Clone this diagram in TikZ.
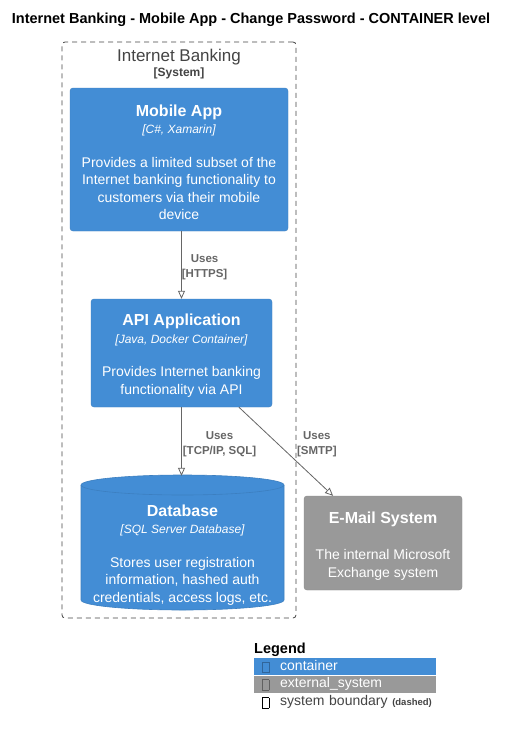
\documentclass[tikz,border=0pt]{standalone}
\usepackage{fontspec}
\setmainfont{Liberation Sans}
\usepackage{tikz}
\usetikzlibrary{arrows.meta}

\definecolor{cblue}{HTML}{438DD5}
\definecolor{cblueline}{HTML}{3C7FC0}
\definecolor{extgray}{HTML}{999999}
\definecolor{extline}{HTML}{8A8A8A}
\definecolor{relgray}{HTML}{666666}
\definecolor{bndgray}{HTML}{444444}

\newcommand{\ctitle}[1]{{\rule{0pt}{17pt}\fontsize{16}{19}\selectfont\bfseries #1}}
\newcommand{\ctech}[1]{{\fontsize{12}{15}\selectfont\itshape [#1]}}
\newcommand{\legicon}{\raisebox{-2pt}{\setlength{\fboxsep}{0pt}\setlength{\fboxrule}{0.5pt}\fbox{\rule{0pt}{10pt}\rule{6pt}{0pt}}}}

\begin{document}
\begin{tikzpicture}[
  x=1pt,y=-1pt,
  >={Triangle[open,length=8pt,width=7pt]},
  container/.style={rectangle,rounded corners=3pt,fill=cblue,draw=cblueline,text=white,align=center,inner sep=0pt,font=\fontsize{14}{17.5}\selectfont},
  extsys/.style={container,fill=extgray,draw=extline},
  rel/.style={draw=relgray,line width=0.8pt,->},
  rellbl/.style={text=relgray,align=center,inner sep=0pt,yshift=-2.5pt,font=\fontsize{11.5}{15}\selectfont\bfseries},
  legrow/.style={rectangle,anchor=north west,minimum height=17.5pt,text width=174pt,inner xsep=4pt,inner ysep=0pt,align=left,font=\fontsize{14}{16}\selectfont}]
      \tikzstyle{boundary}=[rectangle,draw=bndgray,line width=0.8pt,dash pattern=on 5pt off 4pt,rounded corners=3pt]
      \tikzstyle{dbshape}=[fill=cblue,draw=cblueline,line width=0.6pt]

      \fill[white] (0,0) rectangle (508,736);
      \useasboundingbox (0,0) rectangle (508,736);

     \node[font=\fontsize{14.5}{17}\selectfont\bfseries] (title) at (251,20) {Internet Banking - Mobile App - Change Password - CONTAINER level};

     \node[boundary,minimum width=234pt,minimum height=576pt] (ibank) at (179,330) {};
     \node[align=center,text=bndgray,inner sep=0pt,font=\fontsize{17}{17}\selectfont] (ibanklbl) at (179,64.5)
	{Internet Banking\\[-2pt] {\fontsize{12}{14}\selectfont\bfseries [System]}};

     \node[container,minimum width=218pt,minimum height=143pt] (mobile) at (179,159.5)
	{\ctitle{Mobile App}\\ \ctech{C\#, Xamarin}\\[16pt] Provides a limited subset of the\\ Internet banking functionality to\\ customers via their mobile\\ device};

     \node[container,minimum width=181pt,minimum height=108pt] (api) at (181.5,353)
	{\ctitle{API Application}\\ \ctech{Java, Docker Container}\\[16pt] Provides Internet banking\\ functionality via API};

     \path[dbshape] (81,485) arc[start angle=180,end angle=0,x radius=101.5pt,y radius=10pt]
	-- (284,600) arc[start angle=0,end angle=-180,x radius=101.5pt,y radius=10pt] -- cycle;
     \draw[cblueline,line width=0.6pt] (81,485) arc[start angle=180,end angle=360,x radius=101.5pt,y radius=10pt];
     \node[container,fill=none,draw=none,minimum width=203pt,minimum height=152pt] (db) at (182.5,552)
	{\ctitle{Database}\\ \ctech{SQL Server Database}\\[16pt] Stores user registration\\ information, hashed auth\\ credentials, access logs, etc.};

     \node[extsys,minimum width=158pt,minimum height=94pt] (email) at (383,543)
	{\ctitle{E-Mail System}\\[19pt] The internal Microsoft\\ Exchange system};

     \path
	(mobile.south -| api.north) edge[rel] node[rellbl,right=0pt]{Uses\\ {[HTTPS]}} (api.north)
	(api.south) edge[rel] node[rellbl,right=1pt]{Uses\\ {[TCP/IP, SQL]}} (api.south |- db.north)
	(api) edge[rel] node[rellbl,pos=0.39,right=21pt]{Uses\\ {[SMTP]}} (email);

     \node[anchor=west,inner sep=0pt,font=\fontsize{14.5}{16}\selectfont\bfseries] (legend) at (254,650) {Legend};
     \node[legrow,fill=cblue,text=white] (legcont) at (254,657.5) {\hspace{4pt}\textcolor{cblueline!80!black}{\legicon}\hspace{11pt}container};
     \node[legrow,fill=extgray,text=white] (legext) at (legcont.south west) {\hspace{4pt}\textcolor{extline!70!black}{\legicon}\hspace{11pt}external\_system};
     \node[legrow,text=bndgray] (legbnd) at (legext.south west) {\hspace{4pt}\textcolor{black}{\legicon}\hspace{11pt}system boundary {\fontsize{9.5}{10}\selectfont\bfseries (dashed)}};

  \end{tikzpicture}
\end{document}
